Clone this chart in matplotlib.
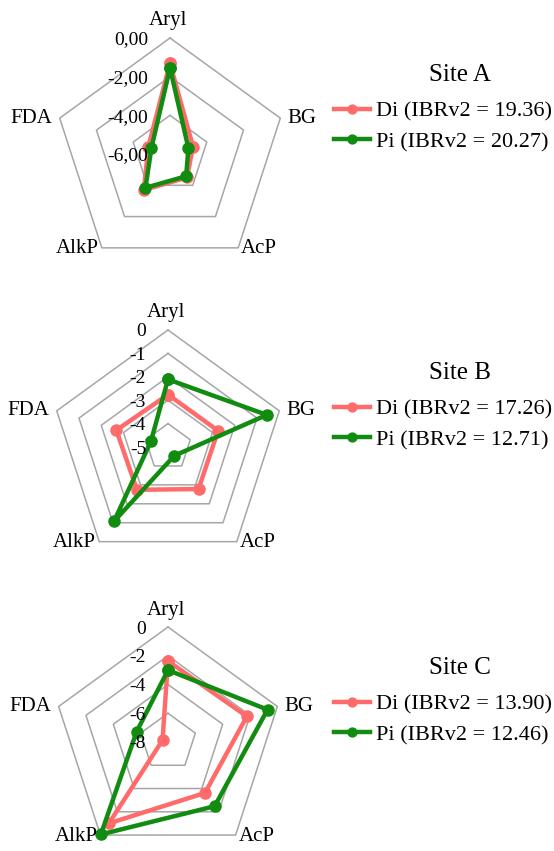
import numpy as np
import matplotlib
matplotlib.use("Agg")
import matplotlib.pyplot as plt

plt.rcParams['font.family'] = ['Liberation Serif', 'DejaVu Serif']

categories = ["Aryl", "BG", "AcP", "AlkP", "FDA"]

# Site A
a_di = [-1.30, -4.75, -4.50, -3.70, -4.82]
a_pi = [-1.55, -5.00, -4.58, -3.84, -4.99]
a_ticks = [0, -2, -4, -6]
a_ticklabels = ["0,00", "-2,00", "-4,00", "-6,00"]

# Site B
b_di = [-2.76, -2.75, -2.78, -2.74, -2.68]
b_pi = [-2.11, -0.56, -4.54, -1.07, -4.23]
b_ticks = [0, -1, -2, -3, -4, -5]
b_ticklabels = ["0", "-1", "-2", "-3", "-4", "-5"]

# Site C
c_di = [-2.37, -2.23, -3.62, -1.00, -7.60]
c_pi = [-3.00, -0.72, -2.48, -0.05, -5.70]
c_ticks = [0, -2, -4, -6, -8]
c_ticklabels = ["0", "-2", "-4", "-6", "-8"]

sites = ["Site A", "Site B", "Site C"]
di_ibr = [19.36, 17.26, 13.90]
pi_ibr = [20.27, 12.71, 12.46]

DI_COLOR = "#FF6B6B"
PI_COLOR = "#118C11"
GRID_COLOR = "#A6A6A6"

W, H = 554, 851
fig = plt.figure(figsize=(W / 100, H / 100), dpi=100)

# pixel centre and radius of each radar
layout = [(170, 154, 116), (168, 447, 117), (168, 742, 115)]
title_rows = [75, 373, 668]

angles = np.linspace(0, 2 * np.pi, len(categories), endpoint=False)
closed = np.append(angles, angles[0])

panels = [
    (a_di, a_pi, a_ticks, a_ticklabels),
    (b_di, b_pi, b_ticks, b_ticklabels),
    (c_di, c_pi, c_ticks, c_ticklabels),
]

for i, (di, pi, ticks, tlabels) in enumerate(panels):
    cx, cy, R = layout[i]
    ax = fig.add_axes([(cx - R) / W, (H - cy - R) / H, 2 * R / W, 2 * R / H],
                      projection="polar")
    ax.set_theta_offset(np.pi / 2)
    ax.set_theta_direction(-1)
    rmin, rmax = min(ticks), max(ticks)
    ax.set_ylim(rmin, rmax)
    ax.grid(False)
    ax.spines["polar"].set_visible(False)
    ax.set_xticks([])
    ax.set_yticks([])
    ax.patch.set_alpha(0)

    # pentagon rings
    for t in ticks:
        if t == rmin:
            continue
        ax.plot(closed, [t] * len(closed), color=GRID_COLOR, lw=1.1,
                zorder=1, clip_on=False)

    # value labels beside the top axis
    for t, lab in zip(ticks, tlabels):
        x, y = ax.transData.transform((0, t))
        fig.text((x - 22) / W, (y - 2) / H, lab, ha="right", va="center",
                 fontsize=14, zorder=5)

    # category labels at the outer vertices
    for ang, cat in zip(angles, categories):
        x, y = ax.transData.transform((ang, rmax))
        if cat == "Aryl":
            fig.text((x - 2) / W, (y + 17) / H, cat, ha="center", va="center", fontsize=15)
        elif cat == "BG":
            fig.text((x + 7) / W, y / H, cat, ha="left", va="center", fontsize=15)
        elif cat == "FDA":
            fig.text((x - 7) / W, y / H, cat, ha="right", va="center", fontsize=15)
        elif cat == "AcP":
            fig.text((x + 3) / W, (y - 1) / H, cat, ha="left", va="center", fontsize=15)
        else:
            fig.text((x - 3) / W, (y - 1) / H, cat, ha="right", va="center", fontsize=15)

    d_line, = ax.plot(closed, np.append(di, di[0]), color=DI_COLOR, lw=3.2,
                      marker="o", ms=8, zorder=3, clip_on=False, solid_joinstyle="round")
    p_line, = ax.plot(closed, np.append(pi, pi[0]), color=PI_COLOR, lw=3.2,
                      marker="o", ms=8, zorder=4, clip_on=False, solid_joinstyle="round")

    # legend block
    title_y = title_rows[i]
    fig.text(460 / W, 1 - title_y / H, sites[i], ha="center", va="center", fontsize=18)
    fig.legend([d_line, p_line],
               [f"Di (IBRv2 = {di_ibr[i]:.2f})", f"Pi (IBRv2 = {pi_ibr[i]:.2f})"],
               loc="upper left",
               bbox_to_anchor=(334 / W, 1 - (title_y + 26) / H),
               frameon=False, fontsize=16, handlelength=1.6,
               handletextpad=0.3, labelspacing=0.45, borderaxespad=0,
               borderpad=0, markerscale=0.8)

fig.savefig("out.png", dpi=100)
